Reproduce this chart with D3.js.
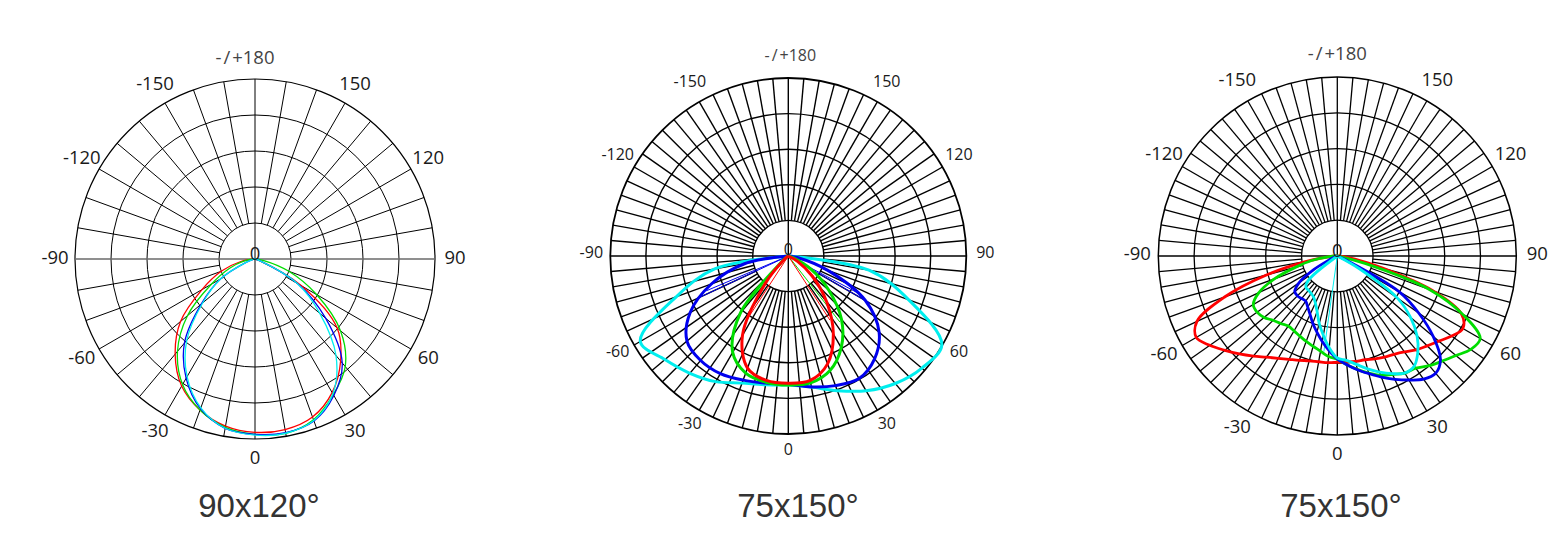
<!DOCTYPE html>
<html><head><meta charset="utf-8">
<script src="https://cdn.jsdelivr.net/npm/d3@7/dist/d3.min.js"></script>
<style>body{margin:0;background:#fff;} svg{display:block}</style>
</head><body>
<svg id="chart" width="1566" height="540"></svg>
<script>
// ---------- DATA ----------
const anglesA = [-90,-80,-70,-60,-50,-40,-30,-20,-10,0,10,20,30,40,50,60,70,80,90];
const anglesB = [-90,-85,-80,-75,-70,-65,-60,-55,-50,-45,-40,-35,-30,-25,-20,-15,-10,-5,0,5,10,15,20,25,30,35,40,45,50,55,60,65,70,75,80,85,90];

const ringValues = [20,40,60,80,100];
const tickAngles = [-150,-120,-90,-60,-30,0,30,60,90,120,150,180];
const tickLabels = ["-150","-120","-90","-60","-30","0","30","60","90","120","150","-/+180"];
const centerLabel = "0";
const titles = ["90x120°","75x150°","75x150°"];

// Chart 1 (90x120°)
const c1Red   = [0,8,20,34,54,69,81.5,89.3,94.3,96.3,96.2,93.4,85.7,74,59.5,30,3,0,0];
const c1Green = [0,6,15,28,49,67,80.5,89.3,95,97.4,98.3,95,87,78,62,39.5,20,5,0];
const c1Blue  = [0,1,5,22,39,61,76.5,88.5,95.5,97.4,98,95.8,87.6,75.4,51.3,27.4,3,0,0];
const c1Cyan  = [0,1,5,22,38,59,75.5,88,95.5,97.8,98.3,95.5,86.5,70,47,27,3,0,0];

// Chart 2 (75x150°)
const c2Cyan  = [0,42,67,96,90.5,86,81.5,76,73.5,72.5,74.8,80.5,87.4,93.5,98,99.6,72,46,0];
const c2Blue  = [0,25,46,63.7,74.3,76.6,76.3,74.2,72.5,72,74.7,77.5,79.5,75.4,66.6,50,23.6,5.6,0];
const c2Green = [0,0,0,1,4,42,62.5,70,72,72.5,72.4,68.5,59.5,46.5,29.5,14.5,3,0,0];
const c2Red   = [0,0,0,0,3,20,51.5,67,71,71.5,71,64.5,50.6,33.5,17.5,6,0,0,0];
// thin radial traces (angle, value)
const c2ThinRedAngles = [-33,33],            c2ThinRedValues = [43,43];
const c2ThinGreenAngles = [-41,38],          c2ThinGreenValues = [35,47];
const c2ThinBlueAngles = [-67,-65,60,62],    c2ThinBlueValues = [50,56,53,46];

// Chart 3 (75x150°)
const c3Red   = [0,5,18,41,67,86.5,91,87,82,77.4,73,69,66,63.7,62,60.6,60,59.8,59.4,59.5,59.8,60,61.2,62.3,63.4,65.4,68.5,71,74,78,81,76.5,57,26.6,10,2.8,0];
const c3Green = [0,4.5,14.5,24,37.4,48.3,54.2,54.7,53.4,50.8,49.2,47.8,48.3,49.4,50.8,52.2,54,56.4,57.7,61,64.3,67.8,71,73,75.5,76.5,80,83,86.5,91,92.2,77.5,55,16,1,0,0];
const c3Blue  = [0,0,0,1,2,4,15,26,31,31.5,31,30.8,33,36,40,44,48.5,53,57.5,61,64.5,68,72,76,80,84,85.5,81.5,70,55.5,40,6,0,0,0,0,0];
const c3Cyan  = [0,0,0,0,0,0,0,0,21,24.8,25,25.5,26.5,29,33,39,45,51.5,57,58.5,61.5,65.3,69,72.5,75.5,75,70,63,53.5,41,14,0,0,0,0,0,0];
const c3ThinCyanAngles = [-8], c3ThinCyanValues = [54];

// ---------- CONFIG ----------
const COL = {red:"#ff0000", green:"#00dd00", blue:"#0000ee", cyan:"#00eeee"};
const charts = [
  {cx:255, cy:259, R:180, angles:anglesA, spokeStep:10, gridW:1, outerW:1.2, hStroke:"#6a6a6a", hW:1.6,
   series:[[c1Red,"red"],[c1Green,"green"],[c1Blue,"blue"],[c1Cyan,"cyan"]], lw:1.3, thin:[],
   fs:18.5, labelR:200, labelDy:-3, topDx:-10, title:titles[0], titleX:259},
  {cx:788.3, cy:256, R:178, angles:anglesA, spokeStep:5, gridW:1.4, outerW:1.8, hStroke:"#000", hW:1.6,
   series:[[c2Cyan,"cyan"],[c2Blue,"blue"],[c2Green,"green"],[c2Red,"red"]], lw:3,
   thin:[[c2ThinBlueAngles,c2ThinBlueValues,"blue"],[c2ThinGreenAngles,c2ThinGreenValues,"green"],[c2ThinRedAngles,c2ThinRedValues,"red"]],
   fs:16, labelR:197, labelDy:-4, topDx:2, title:titles[1], titleX:798},
  {cx:1337.3, cy:256, R:179, angles:anglesB, spokeStep:5, gridW:1.3, outerW:1.5, hStroke:"#000", hW:1.5,
   series:[[c3Red,"red"],[c3Green,"green"],[c3Blue,"blue"],[c3Cyan,"cyan"]], lw:2.8,
   thin:[[c3ThinCyanAngles,c3ThinCyanValues,"cyan"]],
   fs:18.5, labelR:200, labelDy:-4, topDx:0, title:titles[2], titleX:1341}
];

const svg = d3.select("#chart");
svg.append("rect").attr("width",1566).attr("height",540).attr("fill","#fff");
const deg = Math.PI/180;

charts.forEach(ch => {
  const g = svg.append("g").attr("transform", `translate(${ch.cx},${ch.cy})`);
  const r = d3.scaleLinear().domain([0,100]).range([0,ch.R]);
  const ang = d3.scaleLinear().domain([0,180]).range([Math.PI,0]);
  const px = (t,v) => r(v)*Math.sin(t*deg);
  const py = (t,v) => r(v)*Math.cos(t*deg);

  // rings
  g.selectAll("circle.ring").data(ringValues).join("circle")
    .attr("r", d => r(d)).attr("fill","none").attr("stroke","#000")
    .attr("stroke-width", d => d===100 ? ch.outerW : ch.gridW);

  // spokes
  const spokes = d3.range(-180, 180, ch.spokeStep).filter(t => t % 90 !== 0);
  g.selectAll("line.spoke").data(spokes).join("line")
    .attr("x1", t => px(t, ringValues[0])).attr("y1", t => py(t, ringValues[0]))
    .attr("x2", t => px(t, 100)).attr("y2", t => py(t, 100))
    .attr("stroke","#000").attr("stroke-width", ch.gridW);

  // main axes
  g.append("line").attr("x1", px(-90,100)).attr("y1",0).attr("x2", px(90,100)).attr("y2",0)
    .attr("stroke", ch.hStroke).attr("stroke-width", ch.hW);
  g.append("line").attr("x1",0).attr("y1", py(180,100)).attr("x2",0).attr("y2", py(0,100))
    .attr("stroke","#000").attr("stroke-width", ch.gridW);

  // thin traces
  ch.thin.forEach(([as, vs, c]) => {
    g.selectAll(null).data(as).join("line")
      .attr("x1",0).attr("y1",0)
      .attr("x2",(t,i)=>px(t,vs[i])).attr("y2",(t,i)=>py(t,vs[i]))
      .attr("stroke", COL[c]).attr("stroke-width", 1);
  });

  // curves
  const line = d3.lineRadial()
    .angle((d,i) => ang(ch.angles[i]))
    .radius(d => r(d))
    .curve(d3.curveCatmullRom.alpha(0.5));
  ch.series.forEach(([vals, c]) => {
    g.append("path").attr("d", line(vals)).attr("fill","none")
      .attr("stroke", COL[c]).attr("stroke-width", ch.lw).attr("stroke-linejoin","round");
  });

  // tick labels
  tickAngles.forEach((t,i) => {
    const lx = ch.labelR*Math.sin(t*deg) + (t===180 ? ch.topDx : 0);
    const ly = ch.labelR*Math.cos(t*deg) + ch.labelDy;
    const tx = g.append("text").attr("x", lx).attr("y", ly)
      .attr("text-anchor","middle").attr("dominant-baseline","central")
      .attr("font-family","'Open Sans', 'Noto Sans', sans-serif")
      .attr("font-size", ch.fs).attr("fill", t===180 ? "#444" : "#1a1a1a");
    if (t===180) {
      const s = tickLabels[i];
      tx.append("tspan").text(s[0]);
      tx.append("tspan").attr("dx", 2).text(s[1]);
      tx.append("tspan").attr("dx", 2).text(s.slice(2));
    } else tx.text(tickLabels[i]);
  });
  g.append("text").attr("x",0).attr("y",-7)
    .attr("text-anchor","middle").attr("dominant-baseline","central")
    .attr("font-family","'Open Sans', 'Noto Sans', sans-serif")
    .attr("font-size", ch.fs).attr("fill","#1a1a1a").text(centerLabel);

  // title
  svg.append("text").attr("x", ch.titleX).attr("y", 517)
    .attr("text-anchor","middle").attr("font-family","'Liberation Sans', Arial, sans-serif")
    .attr("font-size", 33).attr("fill","#333").text(ch.title);
});
</script>
</body></html>
